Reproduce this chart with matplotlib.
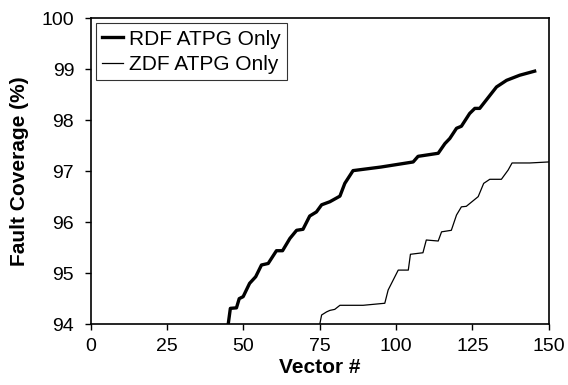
import matplotlib
matplotlib.use("Agg")
import matplotlib.pyplot as plt

# Fault coverage vs. vector count
rdf_vec = [45, 45.7, 47.7, 48.6, 49.9, 52, 54, 55.9, 58.1, 60.8, 62.8, 65.2, 67.4,
           69.5, 71.7, 73.9, 75.6, 78.3, 81.6, 83.2, 85.9, 95, 105.6, 107.2, 113.8,
           116, 117.6, 119.8, 121.4, 124.1, 125.8, 127.4, 132.9, 136.2, 140.5, 145.4]
rdf_cov = [94.0, 94.31, 94.32, 94.5, 94.54, 94.8, 94.93, 95.16, 95.19, 95.44, 95.44,
           95.68, 95.84, 95.86, 96.12, 96.2, 96.34, 96.4, 96.51, 96.76, 97.01, 97.08,
           97.18, 97.29, 97.35, 97.54, 97.64, 97.84, 97.88, 98.13, 98.23, 98.23,
           98.65, 98.78, 98.88, 98.96]

zdf_vec = [75, 75.6, 77.2, 78.3, 79.9, 81.6, 89.2, 96.3, 97.4, 99.6, 100.7, 104,
           104.7, 108.8, 109.9, 113.8, 114.9, 118.1, 119.8, 121.4, 123, 126.9, 128.7,
           130.7, 134.5, 136.7, 138, 143.8, 150]
zdf_cov = [94.0, 94.18, 94.24, 94.27, 94.29, 94.37, 94.37, 94.41, 94.67, 94.93,
           95.06, 95.06, 95.37, 95.4, 95.65, 95.63, 95.81, 95.84, 96.14, 96.3, 96.31,
           96.5, 96.76, 96.84, 96.84, 97.02, 97.16, 97.16, 97.18]

plt.rcParams['font.family'] = ['Liberation Sans', 'DejaVu Sans']

fig = plt.figure(figsize=(5.68, 3.85), dpi=100)
ax = fig.add_axes([0.160, 0.158, 0.806, 0.795])

ax.plot(rdf_vec, rdf_cov, color='black', linewidth=2.4, label='RDF ATPG Only')
ax.plot(zdf_vec, zdf_cov, color='black', linewidth=0.9, label='ZDF ATPG Only')

ax.set_xlim(0, 150)
ax.set_ylim(94, 100)
ax.set_xticks([0, 25, 50, 75, 100, 125, 150])
ax.set_yticks([94, 95, 96, 97, 98, 99, 100])
ax.tick_params(direction='out', length=4, width=1, labelsize=14, colors='black')
ax.tick_params(axis='x', pad=6)
ax.tick_params(axis='y', pad=8)
for s in ax.spines.values():
    s.set_linewidth(1.2)

ax.set_xlabel('Vector #', fontsize=15, fontweight='bold', labelpad=2)
ax.set_ylabel('Fault Coverage (%)', fontsize=15, fontweight='bold', labelpad=9)

leg = ax.legend(loc='upper left', fontsize=15, frameon=True, fancybox=False,
                edgecolor='black', handlelength=1.0, handletextpad=0.3,
                borderpad=0.3, labelspacing=0.3, borderaxespad=0.25)
leg.get_frame().set_linewidth(0.8)

fig.savefig('out.png', dpi=100)
